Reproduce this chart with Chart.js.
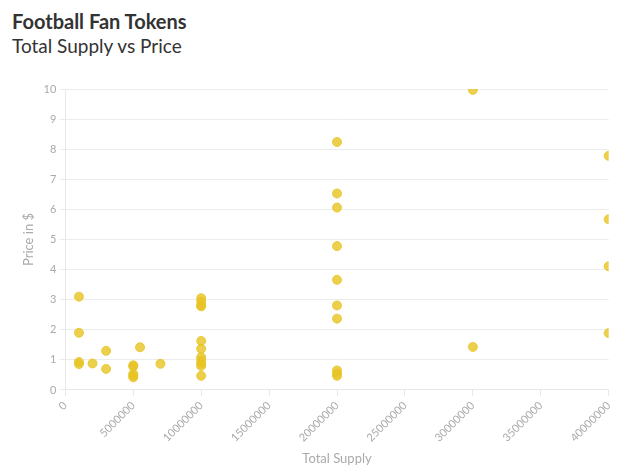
<!DOCTYPE html>
<html>
<head>
<meta charset="utf-8">
<script src="https://cdn.jsdelivr.net/npm/chart.js@4"></script>
<style>
    body { margin: 0; background: #fff; font-family: Lato, sans-serif; overflow: hidden; }
    .head { padding: 9px 12px 0 12px; color: #333; }
    .head h1 { margin: 0; font-size: 20px; font-weight: 700; line-height: 24px; }
    .head h2 { margin: 0; font-size: 19px; font-weight: 400; line-height: 26px; }
    .wrap { position: relative; width: 621px; height: 412px; }
</style>
</head>
<body>
<div class="head">
    <h1>Football Fan Tokens</h1>
    <h2>Total Supply vs Price</h2>
</div>
<div class="wrap"><canvas id="scatterChart"></canvas></div>
<script>
const supply = [
    1000000, 1000000, 1000000, 1000000,
    2000000,
    3000000, 3000000,
    5000000, 5000000, 5000000, 5000000, 5000000,
    5500000,
    7000000,
    10000000, 10000000, 10000000, 10000000, 10000000, 10000000, 10000000, 10000000, 10000000, 10000000, 10000000,
    20000000, 20000000, 20000000, 20000000, 20000000, 20000000, 20000000, 20000000, 20000000, 20000000,
    30000000, 30000000,
    40000000, 40000000, 40000000, 40000000
];
const price = [
    3.1, 1.9, 0.93, 0.86,
    0.88,
    1.3, 0.7,
    0.82, 0.78, 0.53, 0.47, 0.42,
    1.42,
    0.87,
    3.05, 2.94, 2.81, 2.78, 1.63, 1.37, 1.09, 0.98, 0.88, 0.8, 0.47,
    8.24, 6.53, 6.06, 4.78, 3.66, 2.81, 2.37, 0.65, 0.55, 0.47,
    9.97, 1.43,
    7.78, 5.67, 4.11, 1.89
];
const xTicks = { min: 0, max: 40000000, step: 5000000 };
const yTicks = { min: 0, max: 10, step: 1 };

document.addEventListener('DOMContentLoaded', () => {
    const ctx = document.getElementById('scatterChart')?.getContext('2d');
    if (!ctx) return;
    Chart.defaults.font.family = 'Lato, sans-serif';
    new Chart(ctx, {
        type: 'scatter',
        data: {
            datasets: [{
                label: 'Tokens',
                data: supply.map((s, i) => ({ x: s, y: price[i] })),
                backgroundColor: 'rgba(232, 196, 36, 0.82)',
                borderColor: 'rgba(232, 196, 36, 0.82)',
                pointRadius: 4.5,
                pointHoverRadius: 5
            }]
        },
        options: {
            responsive: true,
            maintainAspectRatio: false,
            animation: false,
            layout: { padding: { left: 17, right: 12, top: 30, bottom: 0 } },
            plugins: { legend: { display: false }, tooltip: { enabled: false } },
            scales: {
                x: {
                    type: 'linear',
                    min: xTicks.min,
                    max: xTicks.max,
                    ticks: {
                        stepSize: xTicks.step,
                        minRotation: 45,
                        maxRotation: 45,
                        color: '#aaa',
                        font: { size: 11 },
                        callback: v => String(v)
                    },
                    grid: { drawOnChartArea: false, color: '#e8e8e8', tickLength: 6 },
                    border: { color: '#e8e8e8' },
                    title: { display: true, text: 'Total Supply', color: '#aaa', font: { size: 13 } }
                },
                y: {
                    min: yTicks.min,
                    max: yTicks.max,
                    ticks: { stepSize: yTicks.step, color: '#aaa', font: { size: 11 } },
                    grid: { color: '#ececec', tickLength: 6 },
                    border: { color: '#e8e8e8' },
                    title: { display: true, text: 'Price in $', color: '#aaa', font: { size: 13 } }
                }
            }
        }
    });
});
</script>
</body>
</html>
